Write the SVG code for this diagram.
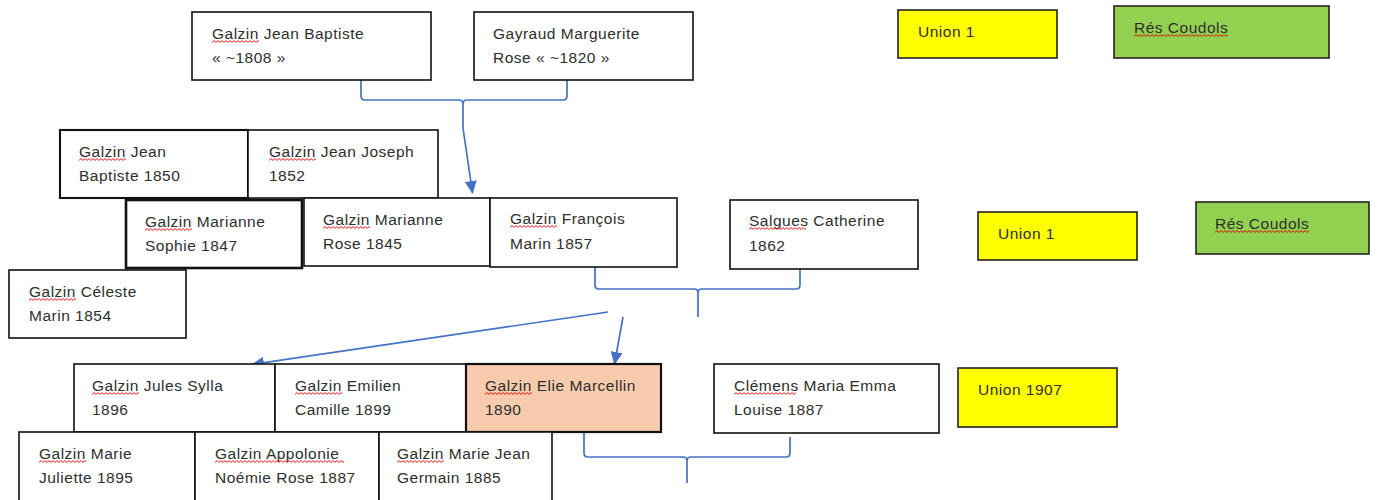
<svg xmlns="http://www.w3.org/2000/svg" width="1378" height="500" viewBox="0 0 1378 500">
<style>
.box{fill:#fff;stroke:#111;stroke-width:1.6}
.thick{stroke-width:2.6}
.mid{stroke-width:2.1}
.yel{fill:#ffff00;stroke:#222;stroke-width:1.6}
.grn{fill:#92d050;stroke:#222;stroke-width:1.6}
.peach{fill:#f8cbad;stroke:#111;stroke-width:2.2}
text{font-family:"Liberation Sans",Arial,sans-serif;font-size:15.5px;letter-spacing:0.5px;fill:#2e2e2e}
.sq{fill:url(#sq)}
.con{fill:none;stroke:#4472c4;stroke-width:1.7;stroke-linejoin:round}
</style>
<defs>
<pattern id="sq" width="4" height="3" patternUnits="userSpaceOnUse"><path d="M0 2.4 L2 0.6 L4 2.4" fill="none" stroke="#e00000" stroke-width="0.9"/></pattern>
<marker id="ah" markerWidth="13" markerHeight="12" refX="12" refY="6" orient="auto" markerUnits="userSpaceOnUse"><path d="M0 0 L13 6 L0 12 Z" fill="#4472c4"/></marker>
</defs>

<g id="connectors">
<path class="con" d="M361 80 V96 Q361 100 365 100 H459 Q463 100 463 104 V128 M567 80 V96 Q567 100 563 100 H467 Q463 100 463 104"/>
<path class="con" d="M463 128 L472.5 193" marker-end="url(#ah)"/>
<path class="con" d="M595 267 V285 Q595 289 599 289 H694 Q698 289 698 293 V317 M800 269 V285 Q800 289 796 289 H702 Q698 289 698 293"/>
<path class="con" d="M608 312 L252 364.5" marker-end="url(#ah)"/>
<path class="con" d="M623 317 L614.5 364" marker-end="url(#ah)"/>
<path class="con" d="M584 433 V453 Q584 457 588 457 H683 Q687 457 687 461 V483 M790 437 V453 Q790 457 786 457 H691 Q687 457 687 461"/>
</g>

<g id="n-jean-baptiste-1808"><rect class="box" x="192" y="12" width="239" height="68"/><text x="212" y="39">Galzin Jean Baptiste</text><text x="212" y="63">« ~1808 »</text><rect class="sq" transform="translate(212,40)" width="47" height="3"/></g>
<g id="n-gayraud"><rect class="box" x="474" y="12" width="219" height="68"/><text x="493" y="39">Gayraud Marguerite</text><text x="493" y="63">Rose « ~1820 »</text></g>
<g id="n-union1-a"><rect class="yel" x="898" y="10" width="159" height="48"/><text x="918" y="37">Union 1</text></g>
<g id="n-res-a"><rect class="grn" x="1114" y="6" width="215" height="52"/><text x="1134" y="33">Rés Coudols</text><rect class="sq" transform="translate(1134,34)" width="94" height="3"/></g>

<g id="n-jean-baptiste-1850"><rect class="box mid" x="60" y="130" width="188" height="68"/><text x="79" y="157">Galzin Jean</text><text x="79" y="181">Baptiste 1850</text><rect class="sq" transform="translate(79,158)" width="47" height="3"/></g>
<g id="n-jean-joseph"><rect class="box" x="248" y="130" width="190" height="68"/><text x="269" y="157">Galzin Jean Joseph</text><text x="269" y="181">1852</text><rect class="sq" transform="translate(269,158)" width="47" height="3"/></g>
<g id="n-marianne-sophie"><rect class="box thick" x="126" y="200" width="176" height="68"/><text x="145" y="227">Galzin Marianne</text><text x="145" y="251">Sophie 1847</text><rect class="sq" transform="translate(145,228)" width="47" height="3"/></g>
<g id="n-marianne-rose"><rect class="box" x="304" y="198" width="186" height="68"/><text x="323" y="225">Galzin Marianne</text><text x="323" y="249">Rose 1845</text><rect class="sq" transform="translate(323,226)" width="47" height="3"/></g>
<g id="n-celeste"><rect class="box" x="9" y="270" width="177" height="68"/><text x="29" y="297">Galzin Céleste</text><text x="29" y="321">Marin 1854</text><rect class="sq" transform="translate(29,298)" width="47" height="3"/></g>
<g id="n-francois"><rect class="box" x="490" y="198" width="187" height="69"/><text x="510" y="224">Galzin François</text><text x="510" y="249">Marin 1857</text><rect class="sq" transform="translate(510,225)" width="47" height="3"/></g>
<g id="n-salgues"><rect class="box" x="730" y="200" width="188" height="69"/><text x="749" y="226">Salgues Catherine</text><text x="749" y="251">1862</text><rect class="sq" transform="translate(749,227)" width="57" height="3"/></g>
<g id="n-union1-b"><rect class="yel" x="978" y="212" width="159" height="48"/><text x="998" y="239">Union 1</text></g>
<g id="n-res-b"><rect class="grn" x="1196" y="202" width="173" height="52"/><text x="1215" y="229">Rés Coudols</text><rect class="sq" transform="translate(1215,230)" width="94" height="3"/></g>

<g id="n-jules"><rect class="box" x="74" y="364" width="201" height="68"/><text x="92" y="391">Galzin Jules Sylla</text><text x="92" y="415">1896</text><rect class="sq" transform="translate(92,392)" width="47" height="3"/></g>
<g id="n-emilien"><rect class="box" x="275" y="364" width="191" height="68"/><text x="295" y="391">Galzin Emilien</text><text x="295" y="415">Camille 1899</text><rect class="sq" transform="translate(295,392)" width="47" height="3"/></g>
<g id="n-elie"><rect class="peach" x="466" y="364" width="195" height="68"/><text x="485" y="391">Galzin Elie Marcellin</text><text x="485" y="415">1890</text><rect class="sq" transform="translate(485,392)" width="47" height="3"/></g>
<g id="n-clemens"><rect class="box" x="714" y="364" width="225" height="69"/><text x="734" y="391">Clémens Maria Emma</text><text x="734" y="415">Louise 1887</text><rect class="sq" transform="translate(734,392)" width="62" height="3"/></g>
<g id="n-union1907"><rect class="yel" x="958" y="368" width="159" height="59"/><text x="978" y="395">Union 1907</text></g>

<g id="n-marie-juliette"><rect class="box" x="19" y="432" width="176" height="70"/><text x="39" y="459">Galzin Marie</text><text x="39" y="483">Juliette 1895</text><rect class="sq" transform="translate(39,460)" width="47" height="3"/></g>
<g id="n-appolonie"><rect class="box" x="195" y="432" width="184" height="70"/><text x="215" y="459">Galzin Appolonie</text><text x="215" y="483">Noémie Rose 1887</text><rect class="sq" transform="translate(215,460)" width="129" height="3"/></g>
<g id="n-marie-jean"><rect class="box" x="379" y="432" width="173" height="70"/><text x="397" y="459">Galzin Marie Jean</text><text x="397" y="483">Germain 1885</text><rect class="sq" transform="translate(397,460)" width="47" height="3"/></g>
</svg>
